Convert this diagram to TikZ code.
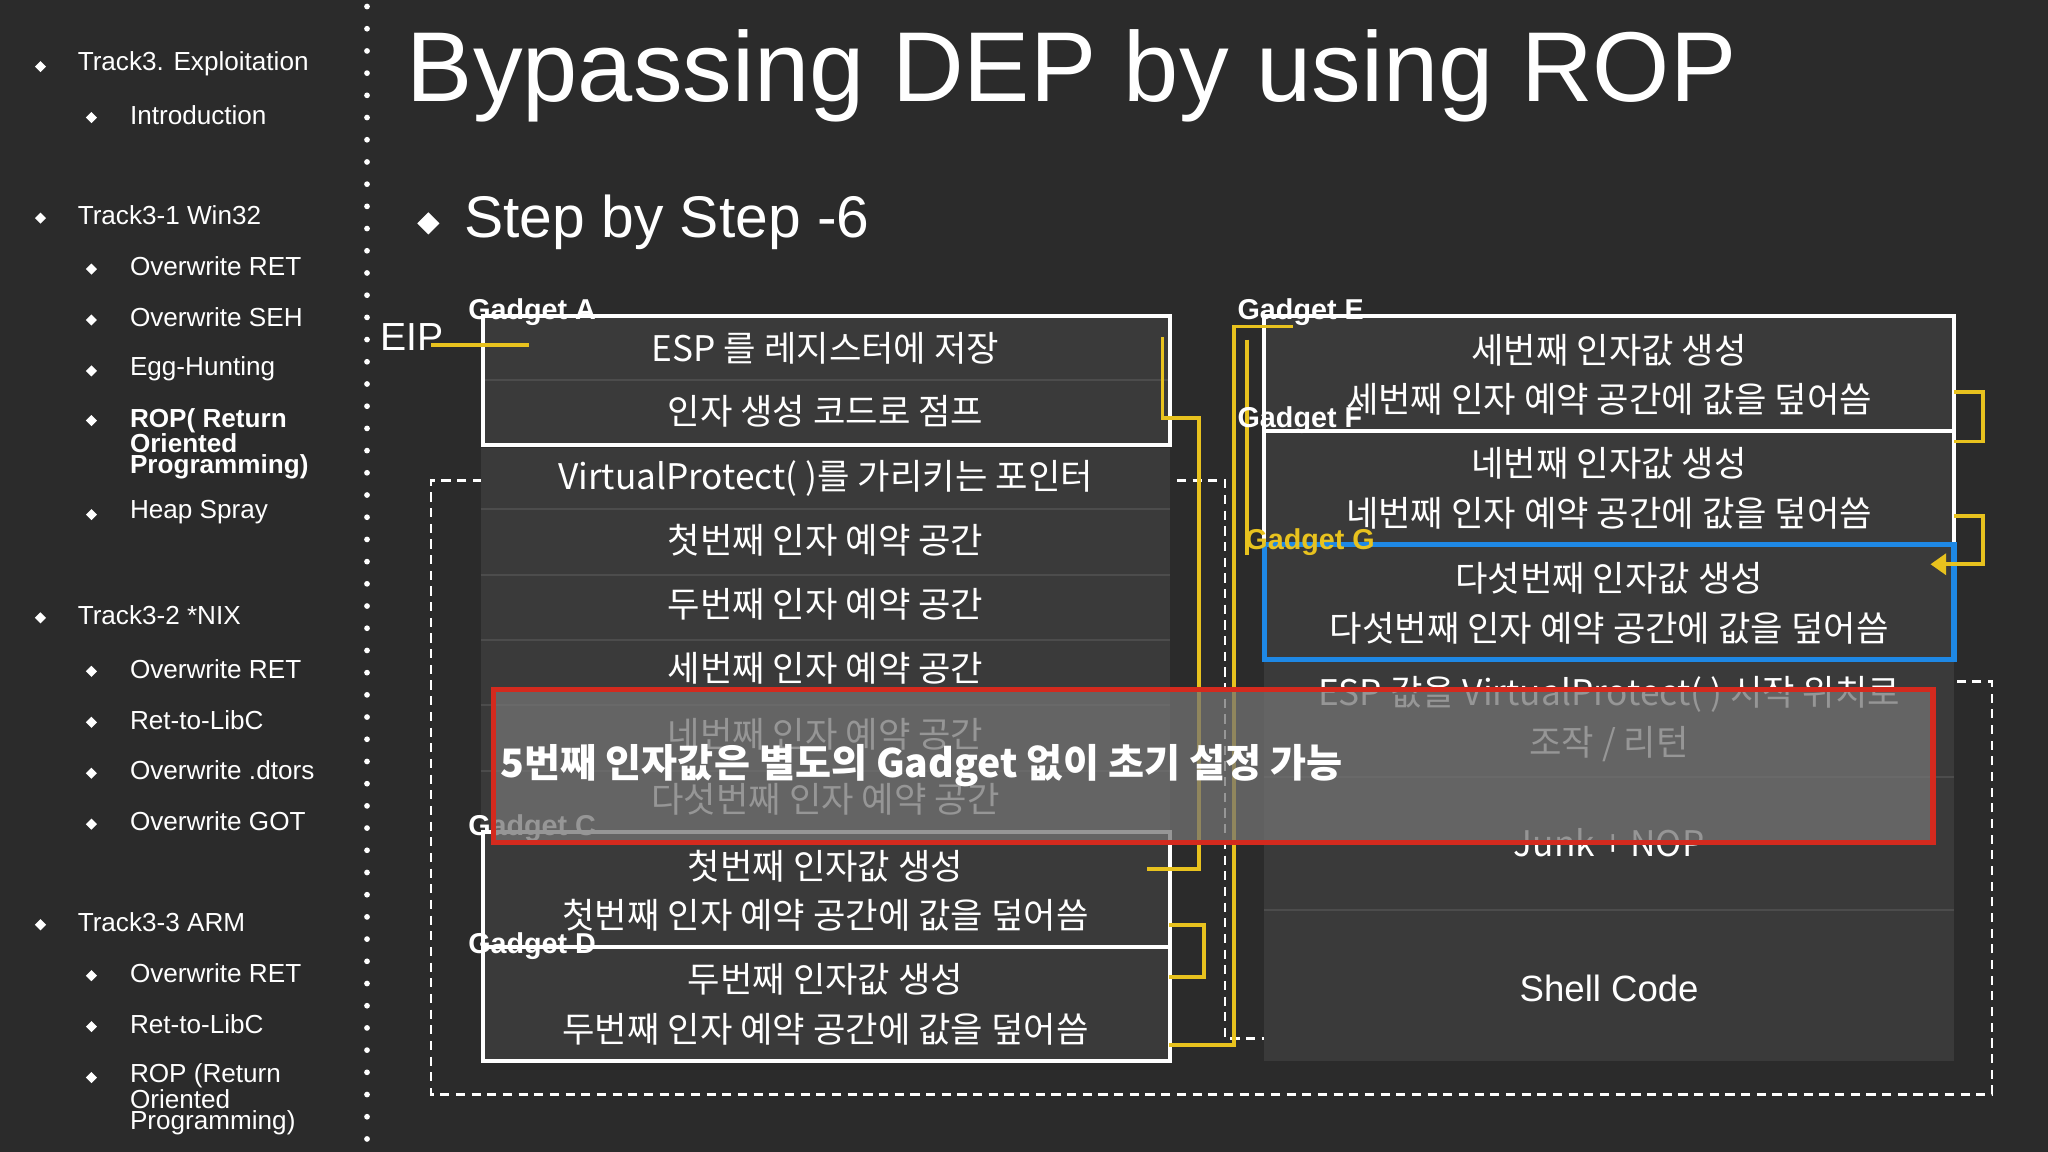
\documentclass[tikz,border=0pt]{standalone}
\usepackage{fontspec}
\setmainfont{Liberation Sans}
\newfontfamily\kr{Noto Sans CJK KR}
\usetikzlibrary{arrows.meta}
\definecolor{bg}{HTML}{2B2B2B}
\definecolor{rowc}{HTML}{3A3A3A}
\definecolor{yel}{HTML}{E8C21E}
\definecolor{blu}{HTML}{1E88E5}
\definecolor{redc}{HTML}{D42A1E}
\tikzset{
 side/.style={anchor=west,text=white!85,font=\fontsize{20}{22}\selectfont},
 bul/.style={fill=white!85,minimum size=6pt,inner sep=0,rotate=45,draw=none},
 rtxt/.style={text=white!90,font=\kr\fontsize{27}{29}\selectfont},
 gbox/.style={draw=white,line width=3pt},
 glab/.style={anchor=west,text=white,font=\bfseries\fontsize{22}{24}\selectfont},
 yl/.style={draw=yel,line width=3pt},
 dsh/.style={draw=white!60,line width=2pt,dash pattern=on 7pt off 5pt},
}
\begin{document}
\begin{tikzpicture}[x=1pt,y=-1pt]
\fill[bg] (0,0) rectangle (1568,882);
\useasboundingbox (0,0) rectangle (1568,882);
% sidebar
\foreach \y/\t in {49/Track3. Exploitation,165/Track3-1 Win32,471/Track3-2 *NIX,706/Track3-3 ARM}{
 \node[bul] at (31,\y+2) {}; \node[side] at (56,\y) {\t};}
\foreach \y/\t in {88/Introduction,204/Overwrite RET,243/Overwrite SEH,282/Egg-Hunting,392/Heap Spray,512/Overwrite RET,551/Ret-to-LibC,590/Overwrite .dtors,629/Overwrite GOT,745/Overwrite RET,784/Ret-to-LibC}{
 \node[bul] at (70,\y+2) {}; \node[side] at (96,\y) {\t};}
\node[bul] at (70,322) {};
\node[side,font=\bfseries\fontsize{20}{16}\selectfont,align=left,anchor=north west] at (96,309) {ROP( Return\\Oriented\\Programming)};
\node[bul] at (70,825) {};
\node[side,font=\fontsize{20}{16}\selectfont,align=left,anchor=north west] at (96,811) {ROP (Return\\Oriented\\Programming)};
\foreach \y in {5,22,...,880} \fill[white] (281,\y) circle (2.2pt);
% title
\node[anchor=west,text=white,font=\fontsize{76}{82}\selectfont] at (308,58) {Bypassing DEP by using ROP};
\node[bul,minimum size=12pt] at (328,171) {};
\node[anchor=west,text=white,font=\fontsize{45}{50}\selectfont] at (352,170) {Step by Step -6};
% dashed
\draw[dsh] (405,368)--(330,368)--(330,838)--(1525,838)--(1525,522)--(1498,522);
\draw[dsh] (865,368)--(938,368)--(938,795)--(970,795);
% left column rows
\foreach \a/\b in {242/291,291/341,343/390,390/440,440/490,490/540,540/590,590/637,637/681,681/725,725/768,768/812}
 \fill[rowc] (368,\a) rectangle (896,\b);
\foreach \y in {291,390,440,490,540,590,637}
 \draw[black!70,line width=1.5pt] (368,\y)--(896,\y);
\draw[gbox] (370,242) rectangle (896,341);
\draw[gbox] (370,637) rectangle (896,725);
\draw[gbox] (370,725) rectangle (896,812);
\node[rtxt] at (632,267) {ESP 를 레지스터에 저장};
\node[rtxt] at (632,315) {인자 생성 코드로 점프};
\node[rtxt] at (632,366) {VirtualProtect( )를 가리키는 포인터};
\node[rtxt] at (632,414) {첫번째 인자 예약 공간};
\node[rtxt] at (632,463) {두번째 인자 예약 공간};
\node[rtxt] at (632,512) {세번째 인자 예약 공간};
\node[rtxt] at (632,562) {네번째 인자 예약 공간};
\node[rtxt] at (632,612) {다섯번째 인자 예약 공간};
\node[rtxt] at (632,663) {첫번째 인자값 생성};
\node[rtxt] at (632,701) {첫번째 인자 예약 공간에 값을 덮어씀};
\node[rtxt] at (632,750) {두번째 인자값 생성};
\node[rtxt] at (632,788) {두번째 인자 예약 공간에 값을 덮어씀};
% right column
\foreach \a/\b in {242/330,330/415,415/505,505/595,595/697,697/812}
 \fill[rowc] (968,\a) rectangle (1496,\b);
\foreach \y in {595,697} \draw[black!70,line width=1.5pt] (968,\y)--(1496,\y);
\draw[gbox] (968,242) rectangle (1496,330);
\draw[gbox] (968,330)--(968,415); \draw[gbox] (1496,330)--(1496,415);
\draw[blu,line width=4pt] (968,417) rectangle (1496,505);
\node[rtxt] at (1232,268) {세번째 인자값 생성};
\node[rtxt] at (1232,306) {세번째 인자 예약 공간에 값을 덮어씀};
\node[rtxt] at (1232,355) {네번째 인자값 생성};
\node[rtxt] at (1232,393) {네번째 인자 예약 공간에 값을 덮어씀};
\node[rtxt] at (1232,443) {다섯번째 인자값 생성};
\node[rtxt] at (1232,481) {다섯번째 인자 예약 공간에 값을 덮어씀};
\node[rtxt] at (1232,532) {ESP 값을 VirtualProtect( ) 시작 위치로};
\node[rtxt] at (1232,570) {조작 / 리턴};
\node[rtxt] at (1232,645) {Junk + NOP};
\node[rtxt,font=\fontsize{28}{30}\selectfont] at (1232,757) {Shell Code};
% yellow connectors
\draw[yl] (330,264)--(405,264);
\draw[yl] (890,258)--(890,320)--(918,320)--(918,665)--(878,665);
\draw[yl] (895,708)--(922,708)--(922,748)--(895,748);
\draw[yl] (895,800)--(945,800)--(945,250)--(990,250);
\draw[yl] (955,260)--(955,425);
\draw[yl] (1496,300)--(1518,300)--(1518,338)--(1496,338);
\draw[yl,-{Triangle[length=12pt,width=16pt]}] (1496,395)--(1518,395)--(1518,432)--(1478,432);
% labels
\node[text=white,font=\fontsize{30}{32}\selectfont,anchor=west] at (288,258) {EIP};
\node[glab] at (355,239) {Gadget A};
\node[glab] at (355,634) {Gadget C};
\node[glab] at (355,724) {Gadget D};
\node[glab] at (944,239) {Gadget E};
\node[glab] at (944,322) {Gadget F};
\node[glab,text=yel] at (950,415) {Gadget G};
% overlay
\fill[black!55,opacity=0.75] (378,528) rectangle (1480,645);
\draw[redc,line width=4pt] (378,528) rectangle (1480,645);
\node[anchor=west,text=white,font=\kr\bfseries\fontsize{30}{32}\selectfont] at (380,586) {5번째 인자값은 별도의 Gadget 없이 초기 설정 가능};
\end{tikzpicture}
\end{document}
